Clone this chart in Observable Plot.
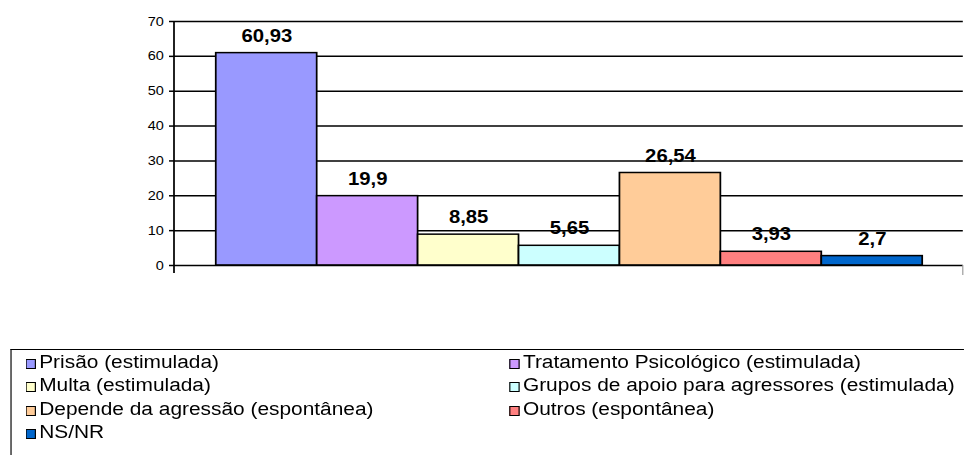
<!DOCTYPE html>
<html>
<head>
<meta charset="utf-8">
<script src="https://cdn.jsdelivr.net/npm/d3@7"></script>
<script src="https://cdn.jsdelivr.net/npm/@observablehq/plot@0.6"></script>
<style>
  html, body { margin: 0; padding: 0; background: #fff; overflow: hidden; }
  #wrap { width: 831px; transform: scaleX(1.16); transform-origin: 0 0;
          font-family: "Liberation Sans", Arial, sans-serif; color: #000; }
  #chart svg { display: block; }
  #legend { margin-left: 8.6px; border-top: 1.3px solid #000; border-left: 1.3px solid #000;
            height: 200px; padding-top: 1px; padding-left: 12.6px; box-sizing: border-box;
            display: grid; grid-template-columns: 417px auto; grid-auto-rows: 23.3px;
            font-size: 18px; line-height: 23.3px; }
  .item { display: flex; align-items: center; white-space: nowrap; }
  .sw { width: 8.6px; height: 10px; border: 1.3px solid #000; box-sizing: border-box;
        margin-right: 3px; margin-top: 3px; flex: none; }
</style>
</head>
<body>
<div id="wrap">
  <div id="chart"></div>
  <div id="legend"></div>
</div>
<script>
const categories = [
  "Prisão (estimulada)",
  "Tratamento Psicológico (estimulada)",
  "Multa (estimulada)",
  "Grupos de apoio para agressores (estimulada)",
  "Depende da agressão (espontânea)",
  "Outros (espontânea)",
  "NS/NR"
];
const values = [60.93, 19.9, 8.85, 5.65, 26.54, 3.93, 2.7];
const colors = ["#9999FF", "#CC99FF", "#FFFFCC", "#CCFFFF", "#FFCC99", "#FF8080", "#0066CC"];
const yTicks = [0, 10, 20, 30, 40, 50, 60, 70];

const fmt = v => String(v).replace(".", ",");
const data = categories.map((c, i) => ({category: c, value: values[i], label: fmt(values[i])}));

const axisLines = (index, scales, vals, dims) => {
  const g = d3.create("svg:g");
  const x0 = dims.marginLeft, x1 = dims.width - dims.marginRight;
  const y0 = dims.marginTop, yb = dims.height - dims.marginBottom;
  g.append("line").attr("x1", x0).attr("x2", x0).attr("y1", y0).attr("y2", yb + 8)
    .attr("stroke", "#000").attr("stroke-width", 1.5);
  g.append("line").attr("x1", x1).attr("x2", x1).attr("y1", yb).attr("y2", yb + 10)
    .attr("stroke", "#999").attr("stroke-width", 1);
  return g.node();
};

const chart = Plot.plot({
  width: 831,
  height: 349,
  marginTop: 21,
  marginBottom: 84,
  marginLeft: 150,
  marginRight: 1,
  style: {fontFamily: "Liberation Sans, Arial, sans-serif", fontSize: "12.5px", color: "#000", background: "#fff", overflow: "visible"},
  x: {domain: categories, paddingInner: 0, paddingOuter: 0.39, align: 0.5, axis: null},
  y: {domain: [0, 70], axis: null},
  color: {domain: categories, range: colors},
  marks: [
    Plot.ruleY(yTicks.filter(d => d > 0), {stroke: "#000", strokeWidth: 1.5}),
    Plot.barY(data, {x: "category", y: "value", fill: "category", stroke: "#000", strokeWidth: 1.5}),
    Plot.ruleY([0], {stroke: "#000", strokeWidth: 1.5}),
    Plot.axisY({ticks: yTicks, label: null, tickSize: 4.3, tickPadding: 5, tickFormat: d => d, stroke: "#000", strokeWidth: 1.5, fontSize: 12.5, fill: "#000"}),
    Plot.text(data, {x: "category", y: "value", text: "label", dy: -17, fontWeight: "bold", fontSize: 17.5, fill: "#000"}),
    axisLines
  ]
});
document.getElementById("chart").appendChild(chart);

const legend = d3.select("#legend");
categories.forEach((c, i) => {
  const it = legend.append("div").attr("class", "item");
  it.append("span").attr("class", "sw").style("background", colors[i]);
  it.append("span").text(c);
});
</script>
</body>
</html>
